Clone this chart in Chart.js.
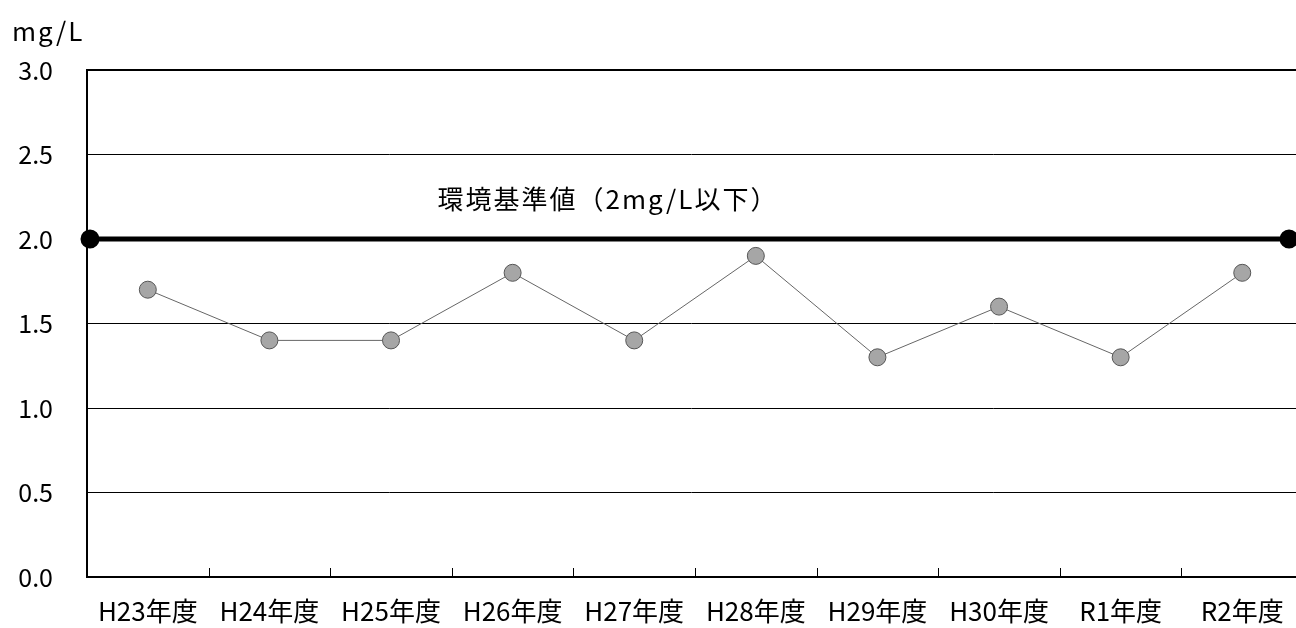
<!DOCTYPE html>
<html>
<head>
    <title>環境基準値</title>
    <script src="https://cdn.jsdelivr.net/npm/chart.js"></script>
    <style>
        html, body { margin: 0; padding: 0; background: #fff; overflow: hidden; }
    </style>
</head>
<body>
    <canvas id="chart" width="1296" height="628"></canvas>

    <script>
        // データ
        const years = ['H23年度', 'H24年度', 'H25年度', 'H26年度', 'H27年度', 'H28年度', 'H29年度', 'H30年度', 'R1年度', 'R2年度'];
        const values = [1.7, 1.4, 1.4, 1.8, 1.4, 1.9, 1.3, 1.6, 1.3, 1.8];
        const standardValue = 2.0;
        const standardLabel = '環境基準値（2mg/L以下）';
        const unitLabel = 'mg/L';
        const yTicks = [0, 0.5, 1.0, 1.5, 2.0, 2.5, 3.0];

        const FONT = '"Noto Sans CJK JP", "Noto Sans", sans-serif';

        // 軸の内向き目盛りと文字
        const extras = {
            id: 'extras',
            afterDraw(chart) {
                const c = chart.ctx, a = chart.chartArea, x = chart.scales.x;
                c.save();
                c.strokeStyle = '#000';
                c.lineWidth = 1;
                for (let i = 0; i < years.length - 1; i++) {
                    const px = Math.round(x.getPixelForValue(i + 0.5)) + 0.5;
                    c.beginPath();
                    c.moveTo(px, a.bottom);
                    c.lineTo(px, a.bottom - 9);
                    c.stroke();
                }
                c.fillStyle = '#000';
                c.font = '26px ' + FONT;
                c.textBaseline = 'middle';
                c.textAlign = 'left';
                c.letterSpacing = '2px';
                c.fillText(unitLabel, 12, 31);
                c.textAlign = 'center';
                c.fillText(standardLabel, 608, 199);
                c.restore();
            }
        };

        // 枠線（右端は画面外）
        const frame = {
            id: 'frame',
            beforeDatasetsDraw(chart) {
                const c = chart.ctx, a = chart.chartArea;
                c.save();
                c.strokeStyle = '#000';
                c.lineWidth = 2;
                c.beginPath();
                c.moveTo(a.right + 2, a.top);
                c.lineTo(a.left, a.top);
                c.lineTo(a.left, a.bottom);
                c.lineTo(a.right + 2, a.bottom);
                c.stroke();
                c.restore();
            }
        };

        new Chart(document.getElementById('chart'), {
            type: 'line',
            data: {
                datasets: [{
                    label: '測定値',
                    data: values.map((v, i) => ({ x: i, y: v })),
                    borderColor: '#666',
                    borderWidth: 1,
                    pointRadius: 8.5,
                    pointBackgroundColor: '#a6a6a6',
                    pointBorderColor: '#555',
                    pointBorderWidth: 1,
                    xAxisID: 'x'
                }, {
                    label: standardLabel,
                    data: [{ x: 0, y: standardValue }, { x: 1, y: standardValue }],
                    borderColor: '#000',
                    borderWidth: 5,
                    pointRadius: 7,
                    pointBackgroundColor: '#000',
                    pointBorderColor: '#000',
                    xAxisID: 'x2',
                    clip: false
                }]
            },
            options: {
                responsive: false,
                animation: false,
                devicePixelRatio: 1,
                layout: { autoPadding: false, padding: { top: 70, right: 0, left: 0, bottom: 0 } },
                plugins: { legend: { display: false }, tooltip: { enabled: false } },
                scales: {
                    x: {
                        type: 'linear',
                        min: -0.5,
                        max: 9.442,
                        afterBuildTicks(scale) { scale.ticks = years.map((_, i) => ({ value: i })); },
                        grid: { display: false, drawTicks: false },
                        border: { display: false },
                        ticks: {
                            color: '#000',
                            font: { family: FONT, size: 26 },
                            padding: 19,
                            maxRotation: 0,
                            autoSkip: false,
                            callback: v => years[v]
                        },
                        afterFit(scale) {
                            scale.height = 51;
                            scale.paddingLeft = 0;
                            scale.paddingRight = 0;
                        }
                    },
                    x2: {
                        type: 'linear',
                        min: -0.0025,
                        max: 1.0058,
                        display: false
                    },
                    y: {
                        min: 0,
                        max: 3,
                        afterBuildTicks(scale) { scale.ticks = yTicks.map(v => ({ value: v })); },
                        grid: { color: '#000', lineWidth: 1, drawTicks: false },
                        border: { display: false },
                        ticks: {
                            color: '#000',
                            font: { family: FONT, size: 25 },
                            padding: 34,
                            callback: v => v.toFixed(1)
                        },
                        afterFit(scale) { scale.width = 87; }
                    }
                }
            },
            plugins: [extras, frame]
        });
    </script>
</body>
</html>
